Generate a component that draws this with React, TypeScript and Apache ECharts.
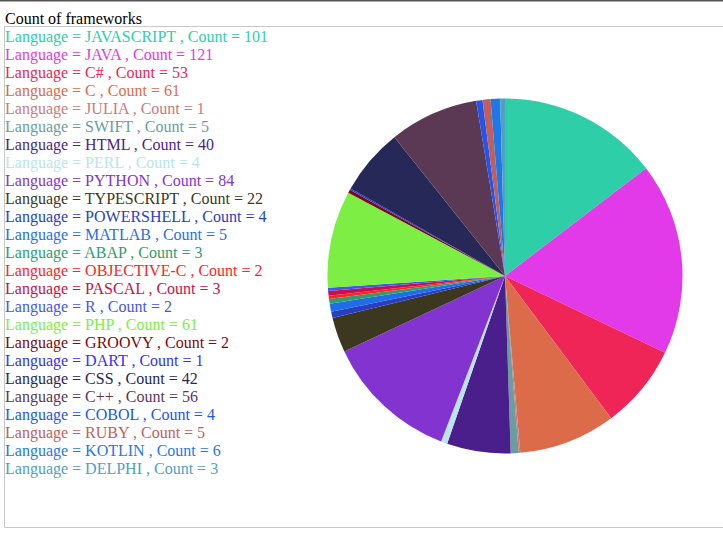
import React, { useEffect, useRef } from "react";
import * as echarts from "echarts";

const titleText = "Count of frameworks";

const languages = [
  "JAVASCRIPT", "JAVA", "C#", "C", "JULIA", "SWIFT", "HTML", "PERL", "PYTHON",
  "TYPESCRIPT", "POWERSHELL", "MATLAB", "ABAP", "OBJECTIVE-C", "PASCAL", "R",
  "PHP", "GROOVY", "DART", "CSS", "C++", "COBOL", "RUBY", "KOTLIN", "DELPHI",
];

const counts = [
  101, 121, 53, 61, 1, 5, 40, 4, 84, 22, 4, 5, 3, 2, 3, 2, 61, 2, 1, 42, 56, 4, 5, 6, 3,
];

const colors = [
  "#2ecfa8", "#e23ae8", "#ee2556", "#dc6b4a", "#cc7a7c", "#6a9da0", "#4a1f8c",
  "#b9e4ee", "#8334d0", "#3c3820", "#2a3ec4", "#1f6ee8", "#2e9e6e", "#ff2424",
  "#c8104a", "#4455ee", "#7cee44", "#7a0a0a", "#3333ee", "#262858", "#5b3853",
  "#2255ee", "#c0605e", "#1f78e8", "#4fa1c0",
];

export default function App() {
  const ref = useRef<HTMLDivElement>(null);
  useEffect(() => {
    if (!ref.current) return;
    const chart = echarts.init(ref.current, null, { renderer: "svg" });
    const font = '16px "Liberation Serif", "Times New Roman", serif';
    const lines = languages.map((name, i) => ({
      type: "text",
      silent: true,
      style: {
        text: `Language = ${name} , Count = ${counts[i]}`,
        x: 5,
        y: 36 + i * 18,
        fill: colors[i],
        font,
        verticalAlign: "middle",
        textVerticalAlign: "middle",
      },
    }));
    chart.setOption({
      animation: false,
      graphic: [
        {
          type: "rect",
          silent: true,
          shape: { x: 0, y: 0, width: 723, height: 1.5 },
          style: { fill: "#555555" },
        },
        {
          type: "rect",
          silent: true,
          shape: { x: 4.5, y: 26.5, width: 760, height: 501 },
          style: { fill: "none", stroke: "#c8c8c8", lineWidth: 1 },
        },
        {
          type: "text",
          silent: true,
          style: {
            text: titleText,
            x: 5,
            y: 18,
            fill: "#000000",
            font,
            verticalAlign: "middle",
            textVerticalAlign: "middle",
          },
        },
        ...lines,
      ],
      series: [
        {
          type: "pie",
          center: [505, 276],
          radius: 177.5,
          startAngle: 90,
          clockwise: true,
          silent: true,
          label: { show: false },
          labelLine: { show: false },
          emphasis: { disabled: true },
          itemStyle: { borderWidth: 0 },
          data: languages.map((name, i) => ({
            name,
            value: counts[i],
            itemStyle: { color: colors[i] },
          })),
        },
      ],
    });
    return () => chart.dispose();
  }, []);
  return (
    <div
      ref={ref}
      style={{ position: "fixed", left: 0, top: 0, width: 723, height: 544, background: "#ffffff" }}
    />
  );
}
